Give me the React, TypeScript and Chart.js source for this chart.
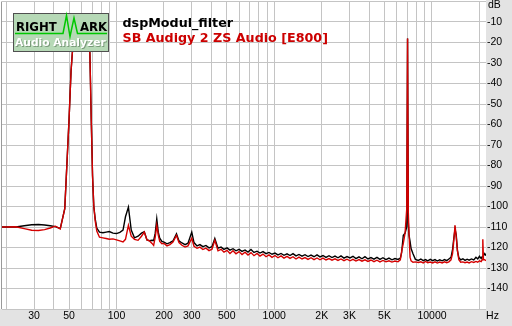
import React, { useEffect, useRef } from "react";
import { Chart, registerables } from "chart.js";

Chart.register(...registerables);

// ---------- data ----------
const freqs = [
  18.8, 20, 23, 26, 29, 32, 35, 38, 41, 44,
  47, 50, 51.5, 52.5, 54, 56, 60, 63, 65, 66.5,
  67.8, 69.2, 70.5, 71.8, 73.3, 75, 78, 82, 86, 90,
  95, 100, 105, 110, 114, 119, 124, 130, 137, 144,
  150, 156, 162, 168, 172, 176, 180, 184, 188, 194,
  200, 209, 218, 228, 240, 249, 260, 272, 284, 300,
  310, 324, 338, 353, 369, 386, 403, 420, 440, 460,
  480, 502, 524, 548, 572, 598, 625, 653, 682, 712,
  744, 778, 812, 849, 887, 926, 968, 1011, 1056, 1104,
  1153, 1205, 1259, 1315, 1374, 1435, 1500, 1567, 1637, 1710,
  1787, 1867, 1950, 2037, 2128, 2224, 2323, 2427, 2536, 2649,
  2768, 2892, 3021, 3156, 3297, 3445, 3599, 3760, 3928, 4104,
  4288, 4480, 4680, 4889, 5108, 5337, 5575, 5825, 6085,
  6300, 6420, 6580, 6750, 6920, 7000, 7080, 7150, 7260, 7370,
  7580, 7850, 8200, 8500, 8800, 9100, 9400, 9750, 10100, 10450,
  10800, 11200, 11600, 12000, 12400, 12800, 13200, 13500, 13700, 14000,
  14250, 14500, 14800, 15200, 15700, 16200, 16700, 17200, 17800, 18400,
  19000, 19500, 20000, 20500, 20800, 21000, 21200, 21600, 22000,
];

const dspModulFilter = [
  -110, -110, -110, -109.4, -108.9, -108.8, -109, -109.4, -109.8, -110.8,
  -101, -58, -34, -25, -13, -8, -7, -8, -12, -18,
  -25, -58, -85, -100, -106, -110.5, -112.5, -112.8, -112.5, -112.2,
  -113, -113.2, -112.6, -111.5, -105, -100.3, -111.5, -115.3, -114.5, -113,
  -112.3, -116.3, -116.7, -116.5, -116.6, -113, -106, -112.5, -115.5, -117,
  -117.4, -118.2, -117.6, -116.8, -113.3, -116.8, -117.8, -118.6, -117.9, -112.5,
  -117.6, -119.2, -118.6, -119.6, -119.0, -120.2, -119.6, -115.6, -120.3, -119.8,
  -120.9, -120.2, -121.3, -120.6, -121.6, -120.9, -121.9, -121.2, -122.2, -121.0,
  -122.4, -121.8, -122.7, -122.0, -123.0, -122.4, -123.3, -122.7, -123.6, -122.9,
  -123.8, -123.1, -123.9, -123.0, -124.1, -123.4, -124.2, -123.5, -124.4, -123.7,
  -124.5, -123.6, -124.6, -123.9, -124.8, -124.0, -124.9, -124.2, -125.0, -124.1,
  -125.2, -124.4, -125.1, -124.3, -125.4, -124.6, -125.5, -124.5, -125.6, -124.9,
  -125.7, -124.8, -125.8, -125.0, -125.9, -125.2, -126.0, -125.4, -125.8,
  -125.2, -122.5, -114, -113, -110, -18, -108, -114, -117, -120.5,
  -123, -125.8, -126.3, -125.6, -126.4, -125.9, -126.5, -125.8, -126.4, -125.9,
  -126.6, -126, -126.5, -125.9, -126.4, -125.6, -124.8, -121, -116.6, -111,
  -114, -121.5, -125, -126, -125.5, -126.3, -125.7, -126.2, -125.6, -126.1,
  -124.8, -125.6, -124.3, -125.4, -124.5, -124.5, -124, -123, -124,
];

const sbAudigy = [
  -110, -110, -109.9, -110.8, -111.6, -111.7, -111.3, -110.5, -109.6, -110.9,
  -101, -58, -34, -25, -13, -8, -7, -8, -12, -18,
  -25, -58, -85, -100, -107, -112, -115, -115.3, -115.6, -116,
  -115.8, -116.3, -116.8, -117.3, -116, -109.2, -114.5, -116, -116.5, -114.5,
  -112.5, -116.3, -116.8, -118, -119, -115, -109.2, -114, -117, -118.2,
  -118.0, -119.2, -118.6, -117.4, -114.1, -117.6, -118.9, -119.8, -119.2, -115.5,
  -119.4, -120.4, -119.8, -121.0, -120.3, -121.5, -120.8, -116.5, -121.6, -120.9,
  -122.3, -121.4, -122.9, -121.6, -123.1, -122.0, -123.4, -122.3, -123.7, -122.5,
  -124.0, -122.9, -124.2, -123.2, -124.5, -123.6, -124.8, -123.9, -125.0, -124.1,
  -125.2, -124.3, -125.3, -124.5, -125.6, -124.7, -125.6, -124.9, -125.8, -125.0,
  -125.9, -125.1, -126.0, -125.2, -126.1, -125.4, -126.2, -125.5, -126.3, -125.6,
  -126.4, -125.7, -126.5, -125.8, -126.6, -125.9, -126.7, -126.0, -126.8, -126.1,
  -126.9, -126.2, -127.0, -126.3, -127.0, -126.5, -127.1, -126.6, -127.0,
  -126, -122, -118, -113, -101, -18, -103, -113, -124.7, -126.5,
  -127.2, -127, -127.3, -127, -127.5, -126.8, -127.4, -127.1, -127.5, -127,
  -127.6, -127.1, -127.5, -127, -127.4, -127, -126, -123, -118, -109.2,
  -115, -121.5, -126, -127.2, -127, -127.4, -127.1, -127.5, -126.9, -127.3,
  -126.8, -127.2, -126.5, -126.9, -126, -116, -126, -126, -126.5,
];

const gridFreqs = [
  20, 30, 40, 50, 60, 70, 80, 90, 100, 200, 300, 400, 500, 600, 700, 800, 900,
  1000, 2000, 3000, 4000, 5000, 6000, 7000, 8000, 9000, 10000, 20000,
];
const xTickValues = [30, 50, 100, 200, 300, 500, 1000, 2000, 3000, 5000, 10000];
const xTickLabels = ["30", "50", "100", "200", "300", "500", "1000", "2K", "3K", "5K", "10000"];
const yTickValues = [-10, -20, -30, -40, -50, -60, -70, -80, -90, -100, -110, -120, -130, -140];

const seriesNames = ["dspModul_filter", "SB Audigy 2 ZS Audio [E800]"];

const GRAY = "#e3e3e3";
const GRID = "#c4c4c4";
const RED = "#d40000";

const decorPlugin = {
  id: "decor",
  beforeDraw(chart: any) {
    const { ctx, chartArea } = chart;
    ctx.save();
    ctx.fillStyle = GRAY;
    ctx.fillRect(0, 0, chart.width, chart.height);
    ctx.fillStyle = "#ffffff";
    ctx.fillRect(0, 0, chartArea.right, chartArea.bottom);
    ctx.restore();
  },
  afterDatasetsDraw(chart: any) {
    const { ctx, chartArea, scales } = chart;
    const xs = scales.x;
    const ys = scales.y;
    ctx.save();
    // left border
    ctx.strokeStyle = "#9a9a9a";
    ctx.lineWidth = 1;
    ctx.beginPath();
    ctx.moveTo(chartArea.left - 0.5, chartArea.top);
    ctx.lineTo(chartArea.left - 0.5, chartArea.bottom);
    ctx.stroke();

    // x labels
    ctx.fillStyle = "#000";
    ctx.font = "10.5px 'Liberation Sans', Arial, sans-serif";
    ctx.textAlign = "center";
    ctx.textBaseline = "middle";
    xTickValues.forEach((v, i) => {
      ctx.fillText(xTickLabels[i], xs.getPixelForValue(v), 316);
    });
    ctx.fillText("Hz", 492.5, 316);

    // y labels
    ctx.textAlign = "left";
    yTickValues.forEach((v) => {
      ctx.fillText(String(v), chartArea.right + 1, ys.getPixelForValue(v));
    });
    ctx.fillText("dB", chartArea.right + 2, 5);

    // titles
    ctx.textBaseline = "alphabetic";
    ctx.font = "bold 12.7px 'DejaVu Sans', Verdana, sans-serif";
    ctx.fillStyle = "#000";
    ctx.fillText(seriesNames[0], 122.5, 26.5);
    ctx.fillStyle = "#cc0000";
    ctx.fillText(seriesNames[1], 122.5, 41.5);

    // logo
    const lx = 13, ly = 13, lw = 96, lh = 39;
    ctx.fillStyle = "#b6d9b6";
    ctx.fillRect(lx, ly, lw, lh);
    ctx.strokeStyle = "#505050";
    ctx.lineWidth = 1;
    ctx.strokeRect(lx + 0.5, ly + 0.5, lw - 1, lh - 1);
    ctx.fillStyle = "#000";
    ctx.font = "bold 11.7px 'DejaVu Sans', Verdana, sans-serif";
    ctx.fillText("RIGHT", 16, 30.5);
    ctx.fillText("ARK", 80, 30.5);
    ctx.strokeStyle = "#00c800";
    ctx.lineWidth = 1.5;
    ctx.beginPath();
    ctx.moveTo(15, 33.5);
    ctx.lineTo(63, 33.5);
    ctx.lineTo(66.5, 15.5);
    ctx.lineTo(70, 36.5);
    ctx.lineTo(74, 18);
    ctx.lineTo(77.5, 33.5);
    ctx.lineTo(107, 33.5);
    ctx.stroke();
    ctx.font = "bold 10.7px 'DejaVu Sans', Verdana, sans-serif";
    ctx.fillStyle = "#7a9a7a";
    ctx.fillText("Audio Analyzer", 16, 47);
    ctx.fillStyle = "#ffffff";
    ctx.fillText("Audio Analyzer", 15, 46);
    ctx.restore();
  },
};

export default function App() {
  const ref = useRef<HTMLCanvasElement | null>(null);
  useEffect(() => {
    document.body.style.margin = "0";
    const canvas = ref.current!;
    const chart = new Chart(canvas, {
      type: "line",
      data: {
        datasets: [
          {
            label: seriesNames[1],
            data: freqs.map((f, i) => ({ x: f, y: sbAudigy[i] })),
            borderColor: RED,
            borderWidth: 1.4,
            pointRadius: 0,
            tension: 0,
            order: 0,
          },
          {
            label: seriesNames[0],
            data: freqs.map((f, i) => ({ x: f, y: dspModulFilter[i] })),
            borderColor: "#000000",
            borderWidth: 1.4,
            pointRadius: 0,
            tension: 0,
            order: 1,
          },
        ],
      },
      options: {
        animation: false,
        responsive: false,
        maintainAspectRatio: false,
        devicePixelRatio: 1,
        layout: { padding: { left: 2, right: 26, top: 1.5, bottom: 17 } },
        plugins: { legend: { display: false }, tooltip: { enabled: false } },
        scales: {
          x: {
            type: "logarithmic",
            min: 18.8,
            max: 22000,
            afterBuildTicks: (s: any) => {
              s.ticks = gridFreqs.map((v) => ({ value: v }));
            },
            afterFit: (s: any) => {
              s.height = 0;
            },
            ticks: { display: false },
            grid: { color: GRID, drawTicks: false, lineWidth: 1 },
            border: { display: false },
          },
          y: {
            type: "linear",
            min: -150,
            max: 0,
            afterFit: (s: any) => {
              s.width = 0;
            },
            ticks: { display: false, stepSize: 10 },
            grid: { color: GRID, drawTicks: false, lineWidth: 1 },
            border: { display: false },
          },
        },
      } as any,
      plugins: [decorPlugin],
    });
    return () => chart.destroy();
  }, []);
  return <canvas ref={ref} width={512} height={326} style={{ display: "block" }} />;
}
